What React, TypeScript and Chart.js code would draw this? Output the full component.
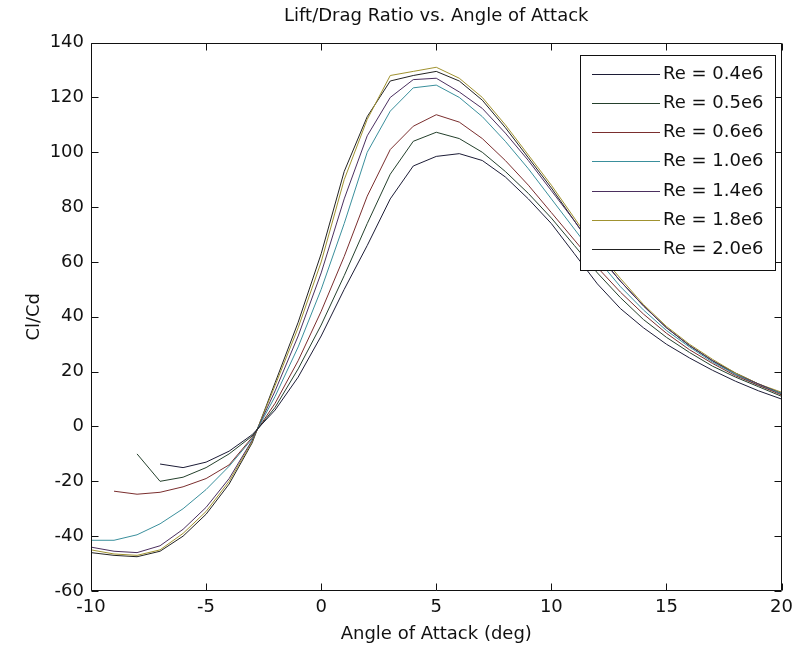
import React, { useEffect, useRef } from 'react';
import { Chart, registerables } from 'chart.js';

Chart.register(...registerables);

// ---- data ----
const angles = [-10, -9, -8, -7, -6, -5, -4, -3, -2, -1, 0, 1, 2, 3, 4, 5, 6, 7, 8, 9, 10, 11, 12, 13, 14, 15, 16, 17, 18, 19, 20];

const re04 = [null, null, null, -13.7, -15, -13, -9, -3, 6, 18, 33, 50, 66, 83, 95, 98.5, 99.5, 97, 91, 83, 74, 63, 52, 43, 36, 30, 25, 20.5, 16.5, 13, 10];
const re05 = [null, null, -10, -20, -18.5, -15, -10, -3.5, 7, 21, 37, 55, 74, 92, 104, 107.3, 105, 100, 93, 85, 76, 66, 56, 47, 39, 32.5, 27, 22, 18, 14.5, 11];
const re06 = [null, -23.6, -24.7, -24, -22, -19, -14, -4, 8.5, 24, 42, 62, 84, 101, 109.5, 113.7, 111, 105, 97, 88, 78, 68, 58, 49, 41, 34, 28, 23, 18.5, 15, 11.5];
const re10 = [-41.5, -41.5, -39.5, -35.5, -30, -23, -14.5, -4.5, 11, 29, 50, 74, 100, 115, 123.5, 124.5, 120, 113, 104, 94, 83, 72, 61, 51, 42.5, 35, 29, 23.5, 19, 15, 12];
const re14 = [-44, -45.5, -46, -43.5, -37.5, -29.5, -19, -5, 13, 33, 56, 83, 106, 120, 126.5, 127, 122, 116, 107, 97, 86, 75, 63, 53, 44, 36, 29.5, 24, 19, 15.5, 12];
const re18 = [-45, -46.5, -47, -45, -39, -31, -20, -5.5, 15, 36, 60, 90, 112, 128, 129.5, 131, 127, 120, 110, 99, 88, 76, 64, 54, 44.5, 36.5, 30, 24.5, 19.5, 15.5, 12.5];
const re20 = [-46, -47, -47.5, -45.5, -40, -32, -21, -6, 16, 38, 63, 93, 113, 126, 128, 129.5, 126, 119, 109, 98, 87, 75, 63, 53, 44, 36, 29.5, 24, 19.5, 15.5, 12];

const seriesLabels = ['Re = 0.4e6', 'Re = 0.5e6', 'Re = 0.6e6', 'Re = 1.0e6', 'Re = 1.4e6', 'Re = 1.8e6', 'Re = 2.0e6'];
const seriesValues = [re04, re05, re06, re10, re14, re18, re20];
const seriesColors = ['#1c1c36', '#24402c', '#7a2e2e', '#3a8f9c', '#4b2f5f', '#a09230', '#222222'];

const titleText = 'Lift/Drag Ratio vs. Angle of Attack';
const xTitle = 'Angle of Attack (deg)';
const yTitle = 'Cl/Cd';
const xMin = -10, xMax = 20, xStep = 5;
const yMin = -60, yMax = 140, yStep = 20;

const FONT = '"DejaVu Sans", sans-serif';

const framePlugin = {
  id: 'matlabFrame',
  afterDatasetsDraw(chart: any) {
    const { ctx, chartArea } = chart;
    const { left, right, top, bottom } = chartArea;
    const xs = chart.scales.x;
    const ys = chart.scales.y;
    const tl = 7;
    ctx.save();
    ctx.strokeStyle = '#111';
    ctx.lineWidth = 1;
    ctx.beginPath();
    const L = Math.round(left) + 0.5, R = Math.round(right) - 0.5, T = Math.round(top) + 0.5, B = Math.round(bottom) - 0.5;
    ctx.rect(L, T, R - L, B - T);
    xs.ticks.forEach((t: any) => {
      const px = Math.round(xs.getPixelForValue(t.value)) + 0.5;
      ctx.moveTo(px, B); ctx.lineTo(px, B - tl);
      ctx.moveTo(px, T); ctx.lineTo(px, T + tl);
    });
    ys.ticks.forEach((t: any) => {
      const py = Math.round(ys.getPixelForValue(t.value)) + 0.5;
      ctx.moveTo(L, py); ctx.lineTo(L + tl, py);
      ctx.moveTo(R, py); ctx.lineTo(R - tl, py);
    });
    ctx.stroke();
    ctx.restore();
  },
};

const legendPlugin = {
  id: 'boxLegend',
  afterDraw(chart: any) {
    const { ctx } = chart;
    const boxL = 580.5, boxT = 55.5, boxR = 775.5, boxB = 270.5;
    ctx.save();
    ctx.fillStyle = '#fff';
    ctx.fillRect(boxL, boxT, boxR - boxL, boxB - boxT);
    ctx.strokeStyle = '#111';
    ctx.lineWidth = 1;
    ctx.strokeRect(boxL, boxT, boxR - boxL, boxB - boxT);
    ctx.font = `18px ${FONT}`;
    ctx.textBaseline = 'middle';
    ctx.textAlign = 'left';
    chart.data.datasets.forEach((ds: any, i: number) => {
      const yy = Math.round(73.5 + i * 29.3) + 0.5;
      ctx.strokeStyle = ds.borderColor;
      ctx.lineWidth = 1;
      ctx.beginPath();
      ctx.moveTo(592, yy);
      ctx.lineTo(660, yy);
      ctx.stroke();
      ctx.fillStyle = '#111';
      ctx.fillText(ds.label, 663, yy);
    });
    ctx.restore();
  },
};

export default function App() {
  const ref = useRef<HTMLCanvasElement | null>(null);

  useEffect(() => {
    if (!ref.current) return;
    const datasets = seriesLabels.map((label, i) => ({
      label,
      data: angles.map((a, j) => ({ x: a, y: seriesValues[i][j] })),
      borderColor: seriesColors[i],
      backgroundColor: seriesColors[i],
      borderWidth: 1,
      pointRadius: 0,
      tension: 0,
      fill: false,
      spanGaps: false,
    }));
    const chart = new Chart(ref.current, {
      type: 'line',
      data: { datasets },
      options: {
        animation: false,
        responsive: false,
        devicePixelRatio: 1,
        layout: { padding: { top: 0, right: 14, bottom: 0, left: 0 } },
        plugins: {
          legend: { display: false },
          tooltip: { enabled: false },
          title: {
            display: true,
            fullSize: false,
            text: titleText,
            color: '#111',
            font: { family: FONT, size: 18, weight: 'normal' },
            padding: { top: 6, bottom: 15 },
          },
        },
        scales: {
          x: {
            type: 'linear',
            min: xMin,
            max: xMax,
            grid: { display: false, drawTicks: false },
            border: { display: false },
            ticks: { stepSize: xStep, color: '#111', font: { family: FONT, size: 18 }, padding: 6, maxRotation: 0 },
            title: { display: true, text: xTitle, color: '#111', font: { family: FONT, size: 18 }, padding: { top: 0, bottom: 11 } },
            afterFit: (s: any) => { s.height = 65; },
          },
          y: {
            type: 'linear',
            min: yMin,
            max: yMax,
            grid: { display: false, drawTicks: false },
            border: { display: false },
            ticks: { stepSize: yStep, color: '#111', font: { family: FONT, size: 18 }, padding: 7 },
            title: { display: true, text: yTitle, color: '#111', font: { family: FONT, size: 18 }, padding: { top: 24, bottom: 0 } },
            afterFit: (s: any) => { s.width = 91; },
          },
        },
      },
      plugins: [framePlugin, legendPlugin],
    });
    return () => chart.destroy();
  }, []);

  return (
    <div style={{ position: 'absolute', left: 0, top: 0, width: 799, height: 656, background: '#fff' }}>
      <canvas ref={ref} width={799} height={656} style={{ display: 'block' }} />
    </div>
  );
}
